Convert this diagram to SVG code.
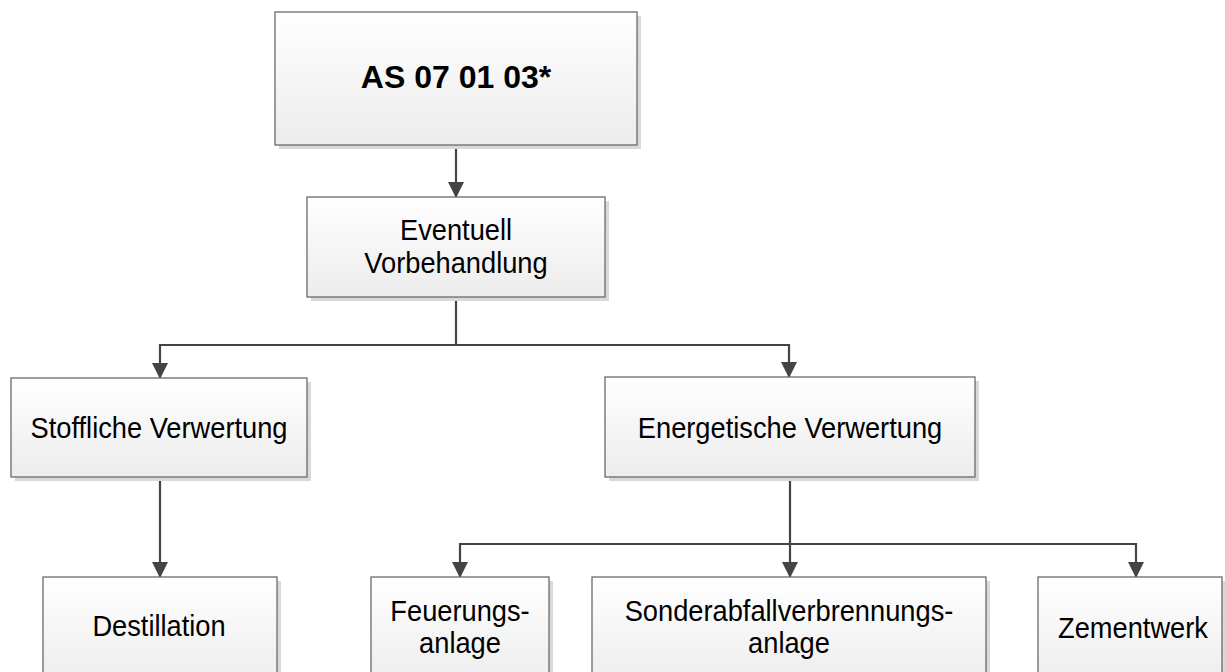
<svg xmlns="http://www.w3.org/2000/svg" width="1225" height="672" viewBox="0 0 1225 672">
  <style>
    .box { fill: url(#boxFill); stroke: #6a6a6a; stroke-width: 1.3; }
    .shadow { fill: #d9d9d9; }
    .label { font-family: "Liberation Sans", Arial, sans-serif; font-size: 29px; fill: #000; text-anchor: middle; }
    .title { font-weight: bold; font-size: 32px; }
    .wire { fill: none; stroke: #444; stroke-width: 2.2; marker-end: url(#arrow); }
  </style>
  <defs>
    <linearGradient id="boxFill" x1="0" y1="0" x2="0" y2="1">
      <stop offset="0" stop-color="#ffffff"/>
      <stop offset="1" stop-color="#ececec"/>
    </linearGradient>
    <marker id="arrow" viewBox="0 0 16 16" refX="15" refY="8" markerWidth="16" markerHeight="16" markerUnits="userSpaceOnUse" orient="auto">
      <path d="M0,0 L16,8 L0,16 Z" fill="#444"/>
    </marker>
  </defs>

  <rect width="1225" height="672" fill="#ffffff"/>

  <!-- connectors -->
  <g id="connectors">
    <path class="wire" d="M456,145 V197"/>
    <path class="wire" d="M456,297 V345 H160 V378"/>
    <path class="wire" d="M456,345 H789 V377"/>
    <path class="wire" d="M160,477 V577"/>
    <path class="wire" d="M790,477 V577"/>
    <path class="wire" d="M790,544 H460 V577"/>
    <path class="wire" d="M790,544 H1136 V577"/>
  </g>

  <!-- body labels use a slightly condensed face: translate to anchor, then squeeze horizontally -->
  <g id="node-as070103">
    <rect class="shadow" x="279" y="16" width="362" height="133"/>
    <rect class="box" x="275" y="12" width="362" height="133"/>
    <text class="label title" x="456" y="88">AS 07 01 03*</text>
  </g>

  <g id="node-vorbehandlung">
    <rect class="shadow" x="311" y="201" width="298" height="100"/>
    <rect class="box" x="307" y="197" width="298" height="100"/>
    <text class="label" transform="translate(456,240) scale(0.94,1)">Eventuell</text>
    <text class="label" transform="translate(456,273) scale(0.94,1)">Vorbehandlung</text>
  </g>

  <g id="node-stofflich">
    <rect class="shadow" x="15" y="382" width="296" height="99"/>
    <rect class="box" x="11" y="378" width="296" height="99"/>
    <text class="label" transform="translate(159,438) scale(0.94,1)">Stoffliche Verwertung</text>
  </g>

  <g id="node-energetisch">
    <rect class="shadow" x="609" y="381" width="370" height="100"/>
    <rect class="box" x="605" y="377" width="370" height="100"/>
    <text class="label" transform="translate(790,438) scale(0.94,1)">Energetische Verwertung</text>
  </g>

  <g id="node-destillation">
    <rect class="shadow" x="47" y="581" width="234" height="110"/>
    <rect class="box" x="43" y="577" width="234" height="110"/>
    <text class="label" transform="translate(159,636) scale(0.94,1)">Destillation</text>
  </g>

  <g id="node-feuerung">
    <rect class="shadow" x="375" y="581" width="178" height="110"/>
    <rect class="box" x="371" y="577" width="178" height="110"/>
    <text class="label" transform="translate(460,621) scale(0.94,1)">Feuerungs-</text>
    <text class="label" transform="translate(460,653) scale(0.94,1)">anlage</text>
  </g>

  <g id="node-sonderabfall">
    <rect class="shadow" x="596" y="581" width="394" height="110"/>
    <rect class="box" x="592" y="577" width="394" height="110"/>
    <text class="label" transform="translate(789,621) scale(0.94,1)">Sonderabfallverbrennungs-</text>
    <text class="label" transform="translate(789,653) scale(0.94,1)">anlage</text>
  </g>

  <g id="node-zementwerk">
    <rect class="shadow" x="1042" y="581" width="184" height="110"/>
    <rect class="box" x="1038" y="577" width="184" height="110"/>
    <text class="label" transform="translate(1133,638) scale(0.94,1)">Zementwerk</text>
  </g>
</svg>
